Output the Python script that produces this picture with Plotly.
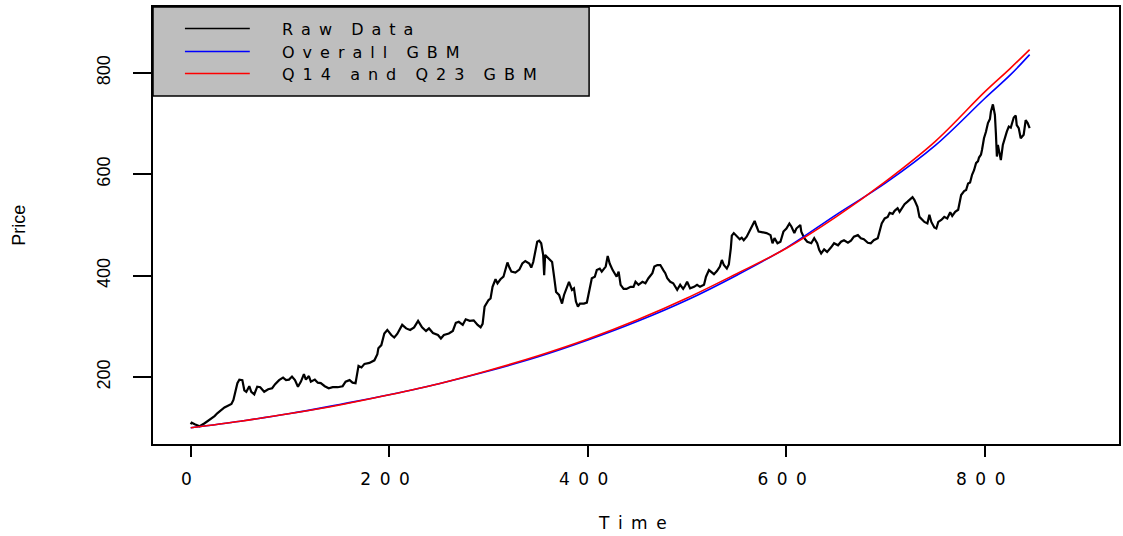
import plotly.graph_objects as go

# ---- data -------------------------------------------------------------
RAW_T = [0, 1, 4, 9, 14, 19, 24, 27, 31, 34,
         37, 41, 43, 45, 47, 49, 52, 54, 56, 59,
         61, 64, 67, 70, 74, 78, 82, 85, 89, 93,
         96, 99, 102, 105, 108, 111, 114, 116, 119, 121,
         125, 128, 131, 135, 139, 143, 148, 153, 156, 160,
         163, 166, 168, 169, 172, 175, 180, 185, 188, 189,
         192, 195, 198, 202, 205, 208, 213, 217, 221, 225,
         229, 233, 237, 240, 244, 249, 252, 255, 260, 264,
         267, 270, 274, 277, 281, 285, 289, 292, 294, 296,
         300, 302, 304, 307, 309, 312, 315, 317, 319, 321,
         323, 327, 331, 334, 337, 341, 343, 345, 347, 349,
         351, 353, 355, 356, 357, 361, 364, 366, 368, 371,
         374, 376, 378, 381, 384, 386, 388, 390, 392, 396,
         399, 402, 404, 407, 409, 412, 414, 418, 420, 422,
         425, 429, 431, 433, 436, 439, 443, 446, 448, 451,
         455, 458, 461, 465, 467, 470, 473, 476, 478, 480,
         483, 486, 488, 490, 493, 496, 498, 500, 503, 507,
         510, 513, 517, 519, 522, 524, 527, 530, 533, 535,
         537, 540, 542, 544, 545, 547, 550, 553, 555, 557,
         560, 563, 565, 568, 570, 572, 575, 580, 584, 586,
         588, 591, 594, 597, 600, 603, 605, 608, 610, 614,
         615, 618, 621, 625, 628, 631, 633, 635, 638, 641,
         645, 648, 652, 655, 658, 662, 665, 668, 672, 675,
         678, 682, 685, 688, 692, 694, 696, 699, 702, 704,
         707, 709, 712, 714, 717, 719, 722, 724, 727, 729,
         732, 734, 737, 739, 742, 744, 746, 749, 751, 753,
         756, 759, 762, 765, 767, 770, 773, 775, 776, 779,
         781, 783, 785, 787, 789, 791, 793, 794, 796, 797,
         799, 801, 803, 805, 806, 808, 810, 811, 812, 813,
         815, 816, 818, 820, 822, 824, 826, 829, 831, 832,
         834, 836, 839, 841, 843, 845]

RAW_PRICE = [107, 110, 107, 103, 109, 116, 123, 129, 136, 140,
             143, 147, 155, 171, 188, 195, 194, 174, 171, 182,
             171, 166, 181, 180, 171, 176, 178, 186, 194, 199,
             194, 195, 201, 194, 181, 191, 206, 195, 202, 191,
             195, 189, 188, 182, 178, 180, 180, 182, 191, 194,
             189, 188, 214, 222, 219, 226, 228, 233, 245, 257,
             263, 286, 293, 283, 278, 285, 303, 296, 293, 298,
             311, 298, 291, 296, 287, 283, 276, 283, 286, 291,
             307, 309, 303, 314, 311, 312, 303, 298, 305, 339,
             352, 355, 378, 393, 385, 393, 398, 411, 426, 416,
             408, 406, 412, 424, 429, 424, 416, 427, 451, 467,
             469, 464, 441, 401, 441, 432, 427, 398, 368, 362,
             345, 362, 372, 388, 372, 375, 349, 339, 345, 345,
             347, 378, 395, 398, 411, 414, 408, 418, 439, 424,
             411, 398, 408, 382, 374, 374, 378, 378, 388, 382,
             388, 385, 395, 405, 418, 421, 421, 411, 405, 395,
             388, 385, 378, 372, 382, 374, 380, 388, 375, 378,
             382, 378, 382, 398, 411, 407, 403, 409, 418, 431,
             421, 414, 422, 454, 479, 484, 477, 472, 475, 470,
             477, 488, 497, 508, 497, 487, 486, 484, 480, 464,
             474, 464, 467, 487, 493, 503, 497, 484, 493, 500,
             487, 474, 467, 464, 474, 464, 451, 444, 452, 447,
             456, 464, 460, 467, 470, 465, 469, 477, 480, 474,
             472, 465, 464, 470, 474, 491, 503, 513, 516, 524,
             522, 528, 533, 526, 536, 541, 546, 549, 555, 549,
             536, 516, 510, 506, 503, 520, 506, 495, 493, 506,
             510, 516, 513, 525, 518, 526, 530, 546, 559, 567,
             569, 582, 584, 599, 608, 622, 626, 633, 639, 648,
             671, 684, 701, 709, 724, 738, 717, 681, 635, 658,
             635, 628, 658, 674, 684, 694, 692, 712, 716, 697,
             691, 671, 678, 707, 701, 691]

GBM_T = [0, 50, 100, 150, 200, 250, 300, 350, 400, 450,
         500, 550, 600, 650, 700, 750, 800, 825, 845]
GBM_OVERALL = [100, 113, 128, 146, 165, 187, 212, 240, 273, 310,
               352, 401, 455, 520, 583, 657, 750, 795, 836]
GBM_Q14_Q23 = [100, 113, 128, 145, 165, 187, 213, 242, 275, 313,
               356, 404, 454, 516, 586, 665, 763, 808, 846]

X_TICKS = [0, 200, 400, 600, 800]
Y_TICKS = [200, 400, 600, 800]
SERIES_NAMES = ["Raw Data", "Overall GBM", "Q14 and Q23 GBM"]
SERIES_COLORS = ["#000000", "#0000FF", "#FF0000"]

# ---- geometry ---------------------------------------------------------
W, H = 1123, 536
L, R, T, B = 153, 1121, 7, 444          # plot-area edges in pixels
PW, PH = R - L, B - T

EN = "\u2002"


def spread(text):
    """Letter-spaced rendering of a label."""
    words = text.split(" ")
    return (EN + EN + "\u2009").join(EN.join(w) for w in words)


def px_x(px):
    return (px - L) / PW


def px_y(py):
    return (B - py) / PH


fig = go.Figure()
fig.add_trace(go.Scatter(x=RAW_T, y=RAW_PRICE, mode="lines",
                         line=dict(color=SERIES_COLORS[0], width=2.2),
                         name=SERIES_NAMES[0]))
fig.add_trace(go.Scatter(x=GBM_T, y=GBM_OVERALL, mode="lines",
                         line=dict(color=SERIES_COLORS[1], width=1.6, shape="spline"),
                         name=SERIES_NAMES[1]))
fig.add_trace(go.Scatter(x=GBM_T, y=GBM_Q14_Q23, mode="lines",
                         line=dict(color=SERIES_COLORS[2], width=1.6, shape="spline"),
                         name=SERIES_NAMES[2]))

axis_common = dict(showline=True, linecolor="black", linewidth=2, mirror=True,
                   showgrid=False, zeroline=False, ticks="outside",
                   tickcolor="black", tickwidth=1.5)

fig.update_layout(
    width=W, height=H,
    margin=dict(l=L, r=W - R, t=T, b=H - B),
    paper_bgcolor="white", plot_bgcolor="white",
    showlegend=False,
    xaxis=dict(range=[-38, 935], tickvals=X_TICKS,
               ticktext=[EN.join(str(v)) + EN for v in X_TICKS],
               ticklen=11, ticklabelstandoff=8,
               tickfont=dict(family="DejaVu Sans", size=17, color="black"),
               **axis_common),
    yaxis=dict(range=[68, 930], tickvals=Y_TICKS,
               ticktext=[str(v) for v in Y_TICKS], tickangle=-90,
               ticklen=18, ticklabelstandoff=16,
               tickfont=dict(family="Liberation Sans, Arial", size=18, color="black"),
               **axis_common),
)

# legend panel
shapes = [dict(type="rect", xref="paper", yref="paper", layer="above",
               x0=0, x1=px_x(590), y0=px_y(96), y1=1,
               fillcolor="#BEBEBE", line=dict(color="black", width=1.5))]
annotations = []
rows = [28.5, 51.5, 73.5]
for name, color, row in zip(SERIES_NAMES, SERIES_COLORS, rows):
    shapes.append(dict(type="line", xref="paper", yref="paper", layer="above",
                       x0=px_x(185), x1=px_x(250), y0=px_y(row), y1=px_y(row),
                       line=dict(color=color, width=1.6)))
    annotations.append(dict(xref="paper", yref="paper", x=px_x(280), y=px_y(row + 1),
                            xanchor="left", yanchor="middle", showarrow=False,
                            text=spread(name),
                            font=dict(family="DejaVu Sans", size=16, color="black")))

# axis titles
annotations.append(dict(xref="paper", yref="paper", x=px_x(633), y=px_y(523),
                        xanchor="center", yanchor="middle", showarrow=False,
                        text=spread("Time"),
                        font=dict(family="DejaVu Sans", size=17, color="black")))
annotations.append(dict(xref="paper", yref="paper", x=px_x(18), y=0.5,
                        xanchor="center", yanchor="middle", showarrow=False,
                        textangle=-90, text="Price",
                        font=dict(family="Liberation Sans, Arial", size=18, color="black")))

fig.update_layout(shapes=shapes, annotations=annotations)
fig.write_html("out.html")
